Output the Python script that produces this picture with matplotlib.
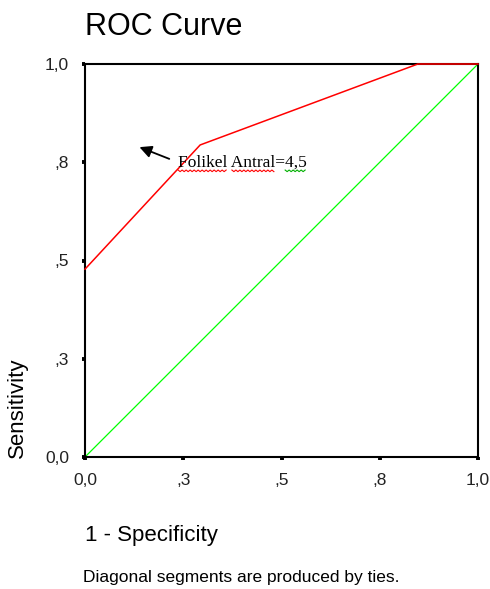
import numpy as np
import matplotlib
matplotlib.use("Agg")
import matplotlib.pyplot as plt

# ROC data
fpr = [0.0, 0.293, 0.847, 1.0]
tpr = [0.478, 0.794, 1.0, 1.0]
ref_x = [0.0, 1.0]
ref_y = [0.0, 1.0]
ticks = [0.0, 0.25, 0.5, 0.75, 1.0]
tick_labels = ["0,0", ",3", ",5", ",8", "1,0"]
cutoff_label = "Folikel Antral=4,5"
cutoff_point = (0.132, 0.791)
cutoff_text = (0.237, 0.748)

plt.rcParams["font.family"] = ["Liberation Sans", "DejaVu Sans"]

W, H = 490, 589
fig = plt.figure(figsize=(W / 100, H / 100), dpi=100)
ax = fig.add_axes([85 / W, 1 - 457 / H, (478 - 85) / W, (457 - 64) / H])

ax.plot(ref_x, ref_y, color="#00ff00", lw=0.9, zorder=2)
ax.plot(fpr, tpr, color="#ff0000", lw=1.1, zorder=3, clip_on=False)

ax.set_xlim(0, 1)
ax.set_ylim(0, 1)
ax.set_xticks(ticks)
ax.set_xticklabels(tick_labels)
ax.set_yticks(ticks)
ax.set_yticklabels(tick_labels)
ax.tick_params(direction="out", length=2.5, width=2.8, color="black",
               labelsize=12.5, pad=9, labelcolor="#222222")
for sp in ax.spines.values():
    sp.set_linewidth(1.5)
    sp.set_color("black")

# annotation with arrow
ax.annotate("", xy=cutoff_point, xytext=(0.221, 0.756),
            arrowprops=dict(arrowstyle="-|>", color="black", lw=1.3,
                            mutation_scale=18))
txt = ax.text(cutoff_text[0], cutoff_text[1], cutoff_label, family="Liberation Serif",
              fontsize=12.5, va="center", ha="left", zorder=5)

# wavy spell-check underlines under the annotation text
fig.canvas.draw()
r = fig.canvas.get_renderer()
bb = txt.get_window_extent(r)
def piece_width(s):
    t = ax.text(0, 0, s, family="Liberation Serif", fontsize=12.5)
    w = t.get_window_extent(r).width
    t.remove()
    return w
x0 = bb.x0
y_line = bb.y0 + 1
inv = fig.transFigure.inverted()
def wavy(xa, xb, color):
    xs = np.arange(xa, xb, 2.0)
    ys = y_line + np.where(np.arange(len(xs)) % 2 == 0, 0.0, -1.6)
    pts = inv.transform(np.column_stack([xs, ys]))
    fig.add_artist(plt.Line2D(pts[:, 0], pts[:, 1], color=color, lw=0.8))
w1 = piece_width("Folikel")
w2 = piece_width("Folikel ")
w3 = piece_width("Folikel Antral")
w4 = piece_width("Folikel Antral=")
wavy(x0, x0 + w1, "#ff0000")
wavy(x0 + w2, x0 + w3, "#ff0000")
wavy(x0 + w4, bb.x1, "#00b000")

fig.text(85 / W, 1 - 35 / H, "ROC Curve", fontsize=22, ha="left", va="baseline")
fig.text(85 / W, 1 - 541 / H, "1 - Specificity", fontsize=16, ha="left", va="baseline")
fig.text(17 / W, 1 - 458 / H, "Sensitivity", fontsize=16, rotation=90,
         ha="center", va="bottom")
fig.text(83 / W, 1 - 582 / H, "Diagonal segments are produced by ties.",
         fontsize=12.5, ha="left", va="baseline")

fig.savefig("out.png", dpi=100)
